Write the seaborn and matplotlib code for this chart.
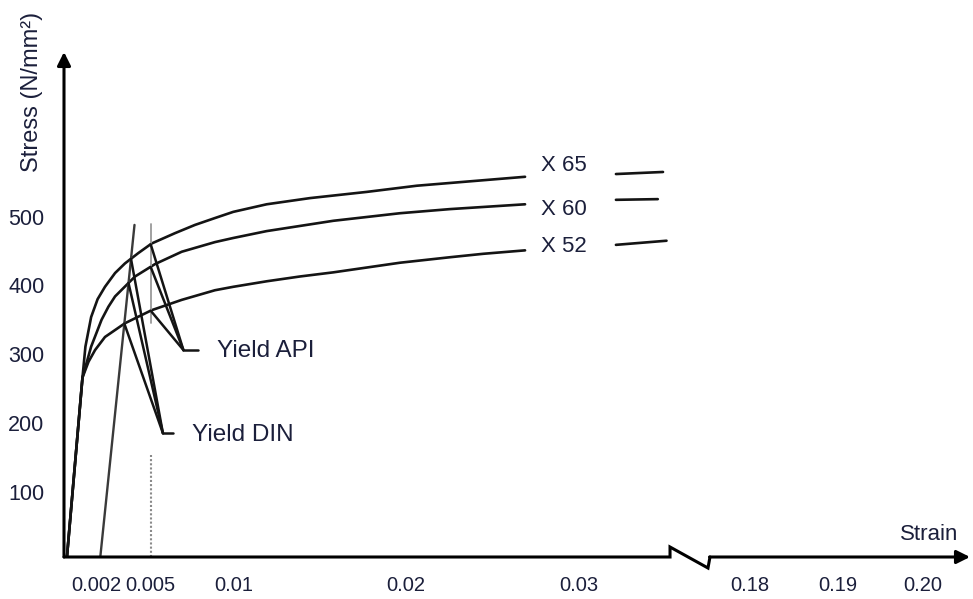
import numpy as np
import pandas as pd
import seaborn as sns
import matplotlib.pyplot as plt
from matplotlib.ticker import NullLocator

# stress-strain curves (strain, stress in N/mm2)
x65_strain = [0.00018, 0.00113, 0.00131, 0.00166, 0.00205, 0.00246, 0.00302, 0.00357, 0.00431, 0.00506,
              0.00647, 0.00768, 0.00889, 0.01, 0.01193, 0.01444, 0.01772, 0.02062, 0.0235, 0.02687]
x65_stress = [5, 266, 311, 354, 380, 398, 418, 432, 447, 461,
              476, 488, 498, 507, 518, 527, 536, 545, 551, 558]
x60_strain = [0.00018, 0.00113, 0.00166, 0.00227, 0.00265, 0.00302, 0.00413, 0.00526, 0.00688,
              0.00889, 0.01, 0.01193, 0.01579, 0.01965, 0.02254, 0.02687]
x60_stress = [5, 266, 311, 350, 369, 384, 413, 431, 449,
              463, 469, 479, 494, 505, 511, 518]
x52_strain = [0.00018, 0.00113, 0.0015, 0.0019, 0.00246, 0.00357, 0.00506, 0.00688, 0.00889, 0.01,
              0.01193, 0.01386, 0.01579, 0.01772, 0.01965, 0.02254, 0.02446, 0.02687]
x52_stress = [5, 266, 289, 306, 325, 345, 364, 379, 393, 398,
              406, 413, 419, 426, 433, 441, 446, 451]

# short pieces to the right of the grade labels
x65_tail_strain = [0.0321, 0.0348]
x65_tail_stress = [562, 565]
x60_tail_strain = [0.0321, 0.0345]
x60_tail_stress = [524.5, 525.5]
x52_tail_strain = [0.0321, 0.0350]
x52_tail_stress = [459, 465]

grades = ['X 65', 'X 60', 'X 52']

# yield definitions
api_strain = 0.005                 # total strain 0.5 %
api_low = [5, 153]
api_high = [345, 490]
din_strain = [0.0022, 0.0041]      # 0.2 % offset line
din_stress = [5, 488]

x_ticks = [0.002, 0.005, 0.01, 0.02, 0.03, 0.18, 0.19, 0.20]
x_ticklabels = ['0.002', '0.005', '0.01', '0.02', '0.03', '0.18', '0.19', '0.20']
y_ticks = [100, 200, 300, 400, 500]

# broken strain axis (hand drawn spacing)
x_breaks = np.array([-1, 0, 0.002, 0.005, 0.01, 0.02, 0.03, 0.0352, 0.1754, 0.18, 0.19, 0.20, 0.2055, 1])
x_pos = np.array([-17300, 0, 32.7, 86.7, 169.3, 342, 515.3, 606, 646, 686, 773.7, 858.7, 906, 7739])


def fwd(x):
    return np.interp(x, x_breaks, x_pos)


def inv(p):
    return np.interp(p, x_pos, x_breaks)


curves = [(x65_strain, x65_stress), (x60_strain, x60_stress), (x52_strain, x52_stress)]
tails = [(x65_tail_strain, x65_tail_stress), (x60_tail_strain, x60_tail_stress), (x52_tail_strain, x52_tail_stress)]

rows = []
for name, (s, v) in zip(grades, curves):
    rows += [dict(grade=name, seg=name + 'a', strain=a, stress=b) for a, b in zip(s, v)]
for name, (s, v) in zip(grades, tails):
    rows += [dict(grade=name, seg=name + 'b', strain=a, stress=b) for a, b in zip(s, v)]
df = pd.DataFrame(rows)

sns.set_style('white')
plt.rcParams['font.family'] = ['Liberation Sans', 'DejaVu Sans']
txt = '#1b1f3b'
ink = '#141414'

fig = plt.figure(figsize=(9.73, 5.99), dpi=100)
ax = fig.add_axes([64 / 973, 42 / 599, 906 / 973, 505 / 599])
ax.set_xscale('function', functions=(fwd, inv))
ax.set_xlim(0, 0.2055)
ax.set_ylim(5, 739.5)

sns.lineplot(data=df, x='strain', y='stress', units='seg', estimator=None, sort=False,
             color=ink, lw=1.9, legend=False, ax=ax)

# yield API: vertical at 0.5 % strain and leaders to the curves
ax.plot([api_strain, api_strain], api_low, color='#8a8a8a', lw=1.5, ls=(0, (1, 1)))
ax.plot([api_strain, api_strain], api_high, color='#9a9a9a', lw=1.3)
api_tip = (0.00698, 306)
for s, v in curves:
    ax.plot([api_strain, api_tip[0]], [np.interp(api_strain, s, v), api_tip[1]], color=ink, lw=1.8)
ax.plot([api_tip[0], 0.00789], [api_tip[1], api_tip[1]], color=ink, lw=1.8)
ax.text(0.00901, 305, 'Yield API', color=txt, fontsize=17.5, ha='left', va='center')

# yield DIN: 0.2 % offset line and leaders to the intersections
ax.plot(din_strain, din_stress, color='#3a3a3a', lw=1.7)
din_tip = (0.00574, 185)
grid = np.linspace(0.0025, 0.0041, 800)
din_line = np.interp(grid, din_strain, din_stress)
for s, v in curves:
    i = np.argmin(np.abs(np.interp(grid, s, v) - din_line))
    ax.plot([grid[i], din_tip[0]], [din_line[i], din_tip[1]], color=ink, lw=1.8)
ax.plot([din_tip[0], 0.00635], [din_tip[1], din_tip[1]], color=ink, lw=1.8)
ax.text(0.0075, 182, 'Yield DIN', color=txt, fontsize=17.5, ha='left', va='center')

for name, y in zip(grades, [573.7, 510.4, 457.3]):
    ax.text(0.0278, y, name, color=txt, fontsize=16, ha='left', va='center')

# axes drawn by hand: arrows and the break in the strain axis
for sp in ax.spines.values():
    sp.set_visible(False)
ax.annotate('', xy=(0, 1.0), xytext=(0, 0), xycoords='axes fraction',
            arrowprops=dict(arrowstyle='-|>', lw=2.2, color='black', mutation_scale=20, shrinkA=0, shrinkB=0))
ax.plot([0, 0.6689, 0.6689, 0.7108, 0.7130], [0, 0, 0.0198, -0.0218, 0],
        transform=ax.transAxes, color='black', lw=2.2, clip_on=False, solid_joinstyle='miter')
ax.annotate('', xy=(1.0, 0), xytext=(0.7125, 0), xycoords='axes fraction',
            arrowprops=dict(arrowstyle='-|>', lw=2.2, color='black', mutation_scale=20, shrinkA=0, shrinkB=0))

ax.set_xticks(x_ticks)
ax.set_xticklabels(x_ticklabels)
ax.xaxis.set_minor_locator(NullLocator())
ax.set_yticks(y_ticks)
ax.tick_params(axis='x', direction='out', length=7, width=2, pad=7, labelsize=14.5, labelcolor=txt, color='black')
ax.tick_params(axis='y', direction='out', length=11, width=2, pad=3, labelsize=15.5, labelcolor=txt, color='black')
ax.set_xlabel('')
ax.set_ylabel('')

ax.text(0.9547, 0.0436, 'Strain', transform=ax.transAxes, color=txt, fontsize=16, ha='center', va='center')
fig.text(32 / 973, 1 - 92 / 599, 'Stress (N/mm²)', rotation=90, color=txt, fontsize=17, ha='center', va='center')

fig.savefig('out.png', dpi=100)
